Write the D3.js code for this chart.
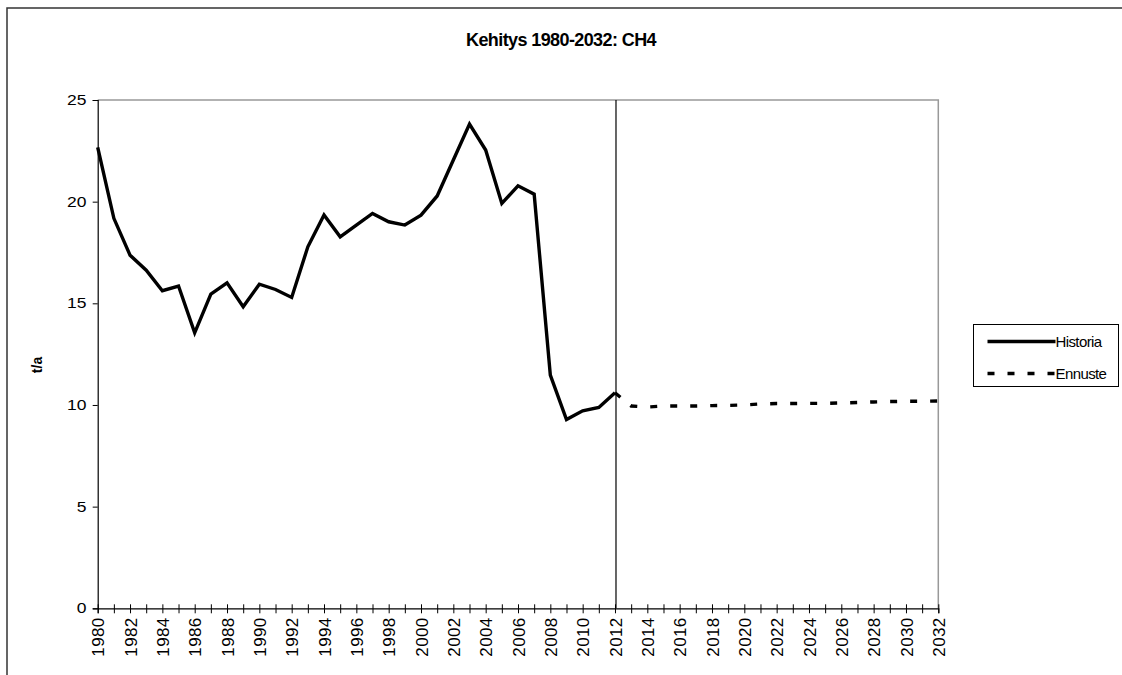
<!DOCTYPE html>
<html>
<head>
<meta charset="utf-8">
<script src="https://cdn.jsdelivr.net/npm/d3@7"></script>
<style>
  body { margin: 0; background: #fff; }
  svg { display: block; font-family: Arial, "Liberation Sans", sans-serif; }
</style>
</head>
<body>
<div id="chart"></div>
<script>
// Kehitys 1980-2032: CH4 (t/a)
const years = d3.range(1980, 2033);
const histYears = d3.range(1980, 2013);
const historia = [22.67, 19.18, 17.37, 16.63, 15.62, 15.85, 13.55, 15.45, 16.01, 14.83,
    15.94, 15.68, 15.29, 17.78, 19.34, 18.27, 18.85, 19.42, 19.01, 18.85,
    19.34, 20.28, 22.05, 23.82, 22.54, 19.91, 20.78, 20.37, 11.47, 9.28,
    9.71, 9.88, 10.6];
const forecastYears = d3.range(2012, 2033);
const ennuste = [10.6, 9.95, 9.9, 9.95, 9.95, 9.95, 9.97, 9.98, 10.0, 10.05,
    10.07, 10.07, 10.08, 10.08, 10.1, 10.12, 10.15, 10.17, 10.18, 10.18, 10.2];
const yTicks = [0, 5, 10, 15, 20, 25];
const splitYear = 2012;

const width = 1122, height = 675;
const plot = { left: 97.7, right: 938.3, top: 100, bottom: 608.3 };

const svg = d3.select('#chart').append('svg')
    .attr('width', width)
    .attr('height', height);

// outer chart border (cut off at right/bottom)
svg.append('path')
    .attr('d', `M7,${height}V8H${width}`)
    .attr('fill', 'none')
    .attr('stroke', '#333')
    .attr('stroke-width', 1.5);

const x = d3.scaleLinear().domain([1980, 2032]).range([plot.left, plot.right]);
const y = d3.scaleLinear().domain([0, 25]).range([plot.bottom, plot.top]);

// plot area frame (top + right in gray)
svg.append('path')
    .attr('d', `M${plot.left},${plot.top}H${plot.right}V${plot.bottom}`)
    .attr('fill', 'none')
    .attr('stroke', '#999')
    .attr('stroke-width', 1.5);

// title
svg.append('text')
    .attr('x', 561)
    .attr('y', 46)
    .attr('text-anchor', 'middle')
    .style('font-size', '18px')
    .style('font-weight', 'bold')
    .style('letter-spacing', '-0.6px')
    .text('Kehitys 1980-2032: CH4');

// y axis
const yAxis = svg.append('g')
    .attr('transform', `translate(${plot.left},0)`)
    .call(d3.axisLeft(y).tickValues(yTicks).tickSize(5).tickPadding(4));
yAxis.select('.domain').attr('stroke', '#000').attr('stroke-width', 1.2);
yAxis.selectAll('.tick line').attr('stroke', '#000');
yAxis.selectAll('.tick text')
    .style('font-size', '14px')
    .attr('fill', '#000')
    .attr('transform', 'scale(1.25,1)');

// x axis with crossing ticks, a label every second year
const xAxis = svg.append('g')
    .attr('transform', `translate(0,${plot.bottom})`)
    .call(d3.axisBottom(x).tickValues(years).tickSize(5)
        .tickFormat(d => (d % 2 === 0 ? String(d) : '')));
xAxis.select('.domain').attr('stroke', '#000').attr('stroke-width', 1.2);
xAxis.selectAll('.tick line').attr('stroke', '#000').attr('y1', -4).attr('y2', 5);
xAxis.selectAll('.tick text')
    .attr('transform', 'rotate(-90)')
    .attr('x', -9)
    .attr('y', 0)
    .attr('dy', '0.36em')
    .attr('text-anchor', 'end')
    .attr('fill', '#000')
    .style('font-size', '17px')
    .style('letter-spacing', '0.4px');

// y axis title
svg.append('text')
    .attr('transform', `translate(42,365) rotate(-90)`)
    .attr('text-anchor', 'middle')
    .style('font-size', '14px')
    .style('font-weight', 'bold')
    .text('t/a');

// vertical divider at the last history year
svg.append('line')
    .attr('x1', x(splitYear) + 1).attr('x2', x(splitYear) + 1)
    .attr('y1', plot.top).attr('y2', plot.bottom)
    .attr('stroke', '#000')
    .attr('stroke-width', 1.2);

const line = d3.line()
    .x(d => x(d[0]))
    .y(d => y(d[1]));

svg.append('path')
    .datum(histYears.map((yr, i) => [yr, historia[i]]))
    .attr('d', line)
    .attr('fill', 'none')
    .attr('stroke', '#000')
    .attr('stroke-width', 3.4)
    .attr('stroke-linejoin', 'miter');

svg.append('path')
    .datum(forecastYears.map((yr, i) => [yr, ennuste[i]]))
    .attr('d', line)
    .attr('fill', 'none')
    .attr('stroke', '#000')
    .attr('stroke-width', 3.4)
    .attr('stroke-dasharray', '7,13');

// legend
const legend = svg.append('g').attr('transform', 'translate(973.5,324.5)');
legend.append('rect')
    .attr('width', 145)
    .attr('height', 62)
    .attr('fill', '#fff')
    .attr('stroke', '#000')
    .attr('stroke-width', 1);

const items = [
    { name: 'Historia', dash: null, y: 17 },
    { name: 'Ennuste', dash: '7,13', y: 49 }
];
items.forEach(it => {
    legend.append('line')
        .attr('x1', 14).attr('x2', 82)
        .attr('y1', it.y).attr('y2', it.y)
        .attr('stroke', '#000')
        .attr('stroke-width', 3.4)
        .attr('stroke-dasharray', it.dash);
    legend.append('text')
        .attr('x', 82)
        .attr('y', it.y)
        .attr('dy', '0.36em')
        .style('font-size', '15px')
        .style('letter-spacing', '-0.6px')
        .text(it.name);
});
</script>
</body>
</html>
